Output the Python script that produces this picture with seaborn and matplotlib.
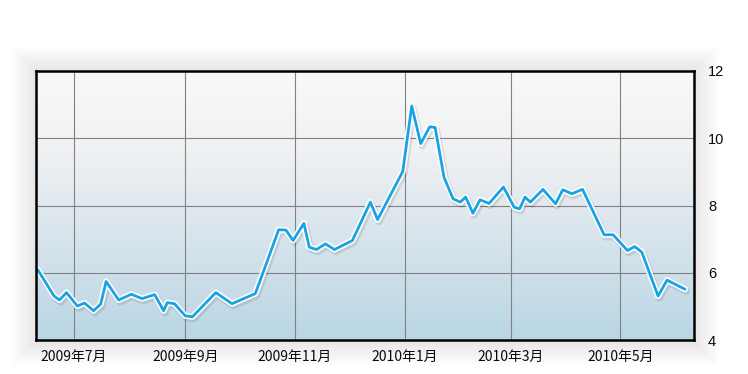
import numpy as np
import pandas as pd
import matplotlib
matplotlib.use("Agg")
import matplotlib.pyplot as plt
import seaborn as sns
import matplotlib.patheffects as pe
from matplotlib.colors import LinearSegmentedColormap
from matplotlib.patches import Rectangle

# ---- data ----
dates = [
    "2009-06-11", "2009-06-20", "2009-06-23", "2009-06-27", "2009-07-03", "2009-07-07",
    "2009-07-12", "2009-07-16", "2009-07-19", "2009-07-26", "2009-08-02", "2009-08-08",
    "2009-08-15", "2009-08-20", "2009-08-22", "2009-08-26", "2009-09-01", "2009-09-05",
    "2009-09-18", "2009-09-27", "2009-10-10", "2009-10-23", "2009-10-27", "2009-10-31",
    "2009-11-06", "2009-11-09", "2009-11-13", "2009-11-18", "2009-11-23", "2009-12-03",
    "2009-12-13", "2009-12-17", "2009-12-31", "2010-01-05", "2010-01-10", "2010-01-15",
    "2010-01-18", "2010-01-23", "2010-01-28", "2010-02-01", "2010-02-04", "2010-02-08",
    "2010-02-12", "2010-02-17", "2010-02-25", "2010-03-03", "2010-03-06", "2010-03-09",
    "2010-03-12", "2010-03-19", "2010-03-26", "2010-03-30", "2010-04-04", "2010-04-10",
    "2010-04-22", "2010-04-27", "2010-05-05", "2010-05-09", "2010-05-13", "2010-05-22",
    "2010-05-27", "2010-06-06",
]
values = [
    6.09, 5.31, 5.19, 5.41, 5.01, 5.10,
    4.87, 5.07, 5.74, 5.19, 5.36, 5.23,
    5.35, 4.87, 5.11, 5.08, 4.72, 4.69,
    5.41, 5.08, 5.38, 7.28, 7.27, 6.96,
    7.47, 6.76, 6.69, 6.86, 6.69, 6.96,
    8.10, 7.58, 9.01, 10.96, 9.84, 10.34,
    10.32, 8.83, 8.20, 8.10, 8.25, 7.77,
    8.17, 8.06, 8.55, 7.95, 7.90, 8.25,
    8.10, 8.48, 8.05, 8.47, 8.35, 8.48,
    7.13, 7.13, 6.66, 6.78, 6.61, 5.31,
    5.78, 5.51,
]
x_tick_dates = ["2009-07-01", "2009-09-01", "2009-11-01", "2010-01-01", "2010-03-01", "2010-05-01"]
x_tick_labels = ["2009年7月", "2009年9月", "2009年11月", "2010年1月", "2010年3月", "2010年5月"]
y_ticks = [4, 6, 8, 10, 12]
x_range = ["2009-06-10", "2010-06-11"]
y_range = [4, 12]

df = pd.DataFrame({"date": pd.to_datetime(dates), "value": values})

# ---- style ----
sns.set_style("white")
plt.rcParams["font.family"] = ["Noto Sans CJK SC", "DejaVu Sans"]

W, H = 748, 374
fig = plt.figure(figsize=(W / 100, H / 100), dpi=100)
fig.patch.set_facecolor("white")
L, R, T, B = 36, 694, 71, 340
ax = fig.add_axes([L / W, 1 - B / H, (R - L) / W, (B - T) / H])

# very soft shadow around the frame
for i in range(1, 26):
    fig.patches.append(Rectangle(((L - i) / W, 1 - (B + i + 1) / H), (R - L + 2 * i) / W,
                                 (B - T + 2 * i) / H, transform=fig.transFigure,
                                 facecolor="black", edgecolor="none", alpha=0.0035, zorder=-5))

# gradient background
cmap = LinearSegmentedColormap.from_list(
    "bg", [(0.0, "#f9f9f9"), (0.3, "#eff1f3"), (0.6, "#d9e5ec"), (1.0, "#b9d6e5")])
grad = np.linspace(0, 1, 256).reshape(-1, 1)
ax.imshow(grad, extent=[0, 1, 0, 1], transform=ax.transAxes, cmap=cmap,
          aspect="auto", origin="upper", zorder=0, interpolation="bicubic")

sns.lineplot(data=df, x="date", y="value", ax=ax, color="#1aa2e2", linewidth=2.0, zorder=5)
for ln in ax.lines:
    ln.set_path_effects([
        pe.SimpleLineShadow(offset=(1.0, -1.6), shadow_color="black", alpha=0.10, linewidth=5),
        pe.Stroke(linewidth=4.4, foreground="white"),
        pe.Normal(),
    ])

ax.set_xlim(pd.to_datetime(x_range[0]), pd.to_datetime(x_range[1]))
ax.set_ylim(*y_range)
ax.set_xticks(pd.to_datetime(x_tick_dates))
ax.set_xticklabels(x_tick_labels)
ax.set_yticks(y_ticks)
ax.set_yticklabels([str(v) for v in y_ticks], family=["Liberation Sans", "DejaVu Sans"])
ax.yaxis.tick_right()
ax.tick_params(axis="both", length=0)
ax.tick_params(axis="x", pad=7, labelsize=10, labelcolor="#0a0a0a")
ax.tick_params(axis="y", pad=10, labelsize=10.5, labelcolor="#0a0a0a")
ax.set_xlabel("")
ax.set_ylabel("")

ax.grid(True, color="#828282", linewidth=0.8)
for gl in ax.get_xgridlines() + ax.get_ygridlines():
    gl.set_zorder(2)

for sp in ax.spines.values():
    sp.set_visible(True)
    sp.set_color("black")
    sp.set_linewidth(1.8)
    sp.set_zorder(10)

fig.savefig("out.png", dpi=100)
